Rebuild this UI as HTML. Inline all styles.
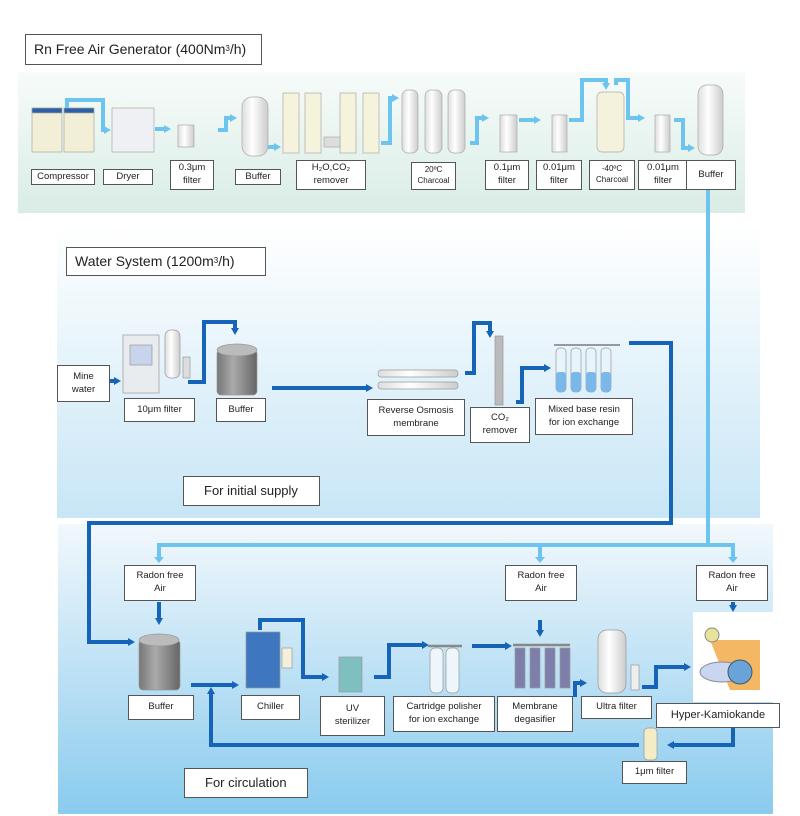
<!DOCTYPE html>
<html><head><meta charset="utf-8"><style>
*{margin:0;padding:0;box-sizing:border-box}
body{width:800px;height:816px;background:#fff;position:relative;overflow:hidden;font-family:"Liberation Sans",sans-serif;color:#222}
.b{position:absolute;background:#fff;border:1.5px solid #555;display:flex;align-items:center;justify-content:center;text-align:center;font-size:9.5px;line-height:1.35}
.s{font-size:8px}
.t{font-size:14px;justify-content:flex-start;padding-left:8px}
svg{position:absolute;left:0;top:0}
</style></head><body>
<svg width="800" height="816">
<defs>
<linearGradient id="g1" x1="0" y1="0" x2="0" y2="1"><stop offset="0" stop-color="#f7fbf9"/><stop offset="1" stop-color="#d9ede5"/></linearGradient>
<linearGradient id="g2" x1="0" y1="0" x2="0" y2="1"><stop offset="0" stop-color="#ffffff"/><stop offset="1" stop-color="#c8e6f6"/></linearGradient>
<linearGradient id="g3" x1="0" y1="0" x2="0" y2="1"><stop offset="0" stop-color="#f2f8fc"/><stop offset="1" stop-color="#8acbee"/></linearGradient>
<linearGradient id="cy" x1="0" y1="0" x2="1" y2="0"><stop offset="0" stop-color="#ddd"/><stop offset=".4" stop-color="#fff"/><stop offset="1" stop-color="#ccc"/></linearGradient>
<linearGradient id="gr" x1="0" y1="0" x2="1" y2="0"><stop offset="0" stop-color="#777"/><stop offset=".4" stop-color="#aaa"/><stop offset="1" stop-color="#666"/></linearGradient>
<marker id="al" markerUnits="userSpaceOnUse" markerWidth="8" markerHeight="8" refX="2" refY="4" orient="auto"><path d="M0,0L7,4L0,8z" fill="#6cc4ef"/></marker>
<marker id="ad" markerUnits="userSpaceOnUse" markerWidth="8" markerHeight="8" refX="2" refY="4" orient="auto"><path d="M0,0L7,4L0,8z" fill="#1664b8"/></marker>
</defs>
<rect x="18" y="72" width="727" height="141" fill="url(#g1)"/>
<rect x="57" y="225" width="703" height="293" fill="url(#g2)"/>
<rect x="58" y="524" width="715" height="290" fill="url(#g3)"/>
<g stroke="#aaa" stroke-width=".7">
<rect x="32" y="108" width="30" height="44" fill="#f3efd6"/><rect x="32" y="108" width="30" height="5" fill="#2b5fa6"/>
<rect x="64" y="108" width="30" height="44" fill="#f3efd6"/><rect x="64" y="108" width="30" height="5" fill="#2b5fa6"/>
<rect x="112" y="108" width="42" height="44" fill="#eef0f3"/>
<rect x="178" y="125" width="16" height="22" fill="url(#cy)"/>
<rect x="242" y="97" width="26" height="59" rx="10" fill="url(#cy)"/>
<rect x="283" y="93" width="16" height="60" fill="#f6f3dc"/><rect x="305" y="93" width="16" height="60" fill="#f6f3dc"/>
<rect x="340" y="93" width="16" height="60" fill="#f6f3dc"/><rect x="363" y="93" width="16" height="60" fill="#f6f3dc"/>
<rect x="324" y="137" width="16" height="10" fill="#ddd"/>
<rect x="402" y="90" width="16" height="63" rx="6" fill="url(#cy)"/><rect x="425" y="90" width="17" height="63" rx="6" fill="url(#cy)"/><rect x="448" y="90" width="17" height="63" rx="6" fill="url(#cy)"/>
<rect x="500" y="115" width="17" height="37" fill="url(#cy)"/><rect x="552" y="115" width="15" height="37" fill="url(#cy)"/>
<rect x="597" y="92" width="27" height="60" rx="5" fill="#f4f1dc"/>
<rect x="655" y="115" width="15" height="37" fill="url(#cy)"/>
<rect x="698" y="85" width="25" height="70" rx="9" fill="url(#cy)"/>
</g>
<g fill="none" stroke="#6cc4ef" stroke-width="4">
<path d="M67,108V100H103V130H106" marker-end="url(#al)"/>
<path d="M155,129H166" marker-end="url(#al)"/>
<path d="M218,130H226V118H232" marker-end="url(#al)"/>
<path d="M268,147H276" marker-end="url(#al)"/>
<path d="M381,143H390V98H394" marker-end="url(#al)"/>
<path d="M470,143H477V118H484" marker-end="url(#al)"/>
<path d="M519,120H536" marker-end="url(#al)"/>
<path d="M569,120H582V80H606V85" marker-end="url(#al)"/>
<path d="M616,85V80H628V118H640" marker-end="url(#al)"/>
<path d="M674,120H683V148H690" marker-end="url(#al)"/>
<path d="M708,190V545"/>
<path d="M159,559V545H733V559" /><path d="M540,545V559"/>
</g>
<g fill="#6cc4ef"><path d="M154,557h10l-5,6z"/><path d="M535,557h10l-5,6z"/><path d="M728,557h10l-5,6z"/></g>
<g stroke="#999" stroke-width=".7">
<rect x="123" y="335" width="36" height="58" fill="#e9ecef"/><rect x="130" y="345" width="22" height="20" fill="#c8d3ec"/>
<rect x="165" y="330" width="15" height="48" rx="6" fill="url(#cy)"/><rect x="183" y="357" width="7" height="21" fill="#ddd"/>
<rect x="217" y="350" width="40" height="45" rx="4" fill="url(#gr)"/><ellipse cx="237" cy="350" rx="20" ry="6" fill="#bbb"/>
<rect x="378" y="370" width="80" height="7" rx="3" fill="url(#cy)"/><rect x="378" y="382" width="80" height="7" rx="3" fill="url(#cy)"/>
<rect x="495" y="336" width="8" height="69" fill="#bbb"/>
<rect x="556" y="348" width="10" height="44" rx="4" fill="#e8f4fb"/><rect x="571" y="348" width="10" height="44" rx="4" fill="#e8f4fb"/><rect x="586" y="348" width="10" height="44" rx="4" fill="#e8f4fb"/><rect x="601" y="348" width="10" height="44" rx="4" fill="#e8f4fb"/>
</g>
<g fill="#7ab8ea"><rect x="556" y="372" width="10" height="20" rx="3"/><rect x="571" y="372" width="10" height="20" rx="3"/><rect x="586" y="372" width="10" height="20" rx="3"/><rect x="601" y="372" width="10" height="20" rx="3"/></g>
<path d="M554,345H620" stroke="#999" stroke-width="2"/>
<g fill="none" stroke="#1664b8" stroke-width="4">
<path d="M110,381H116" marker-end="url(#ad)"/>
<path d="M188,382H204V322H235V330" marker-end="url(#ad)"/>
<path d="M272,388H368" marker-end="url(#ad)"/>
<path d="M465,373H474V323H490V333" marker-end="url(#ad)"/>
<path d="M516,402H522V368H546" marker-end="url(#ad)"/>
<path d="M629,343H671V523H89V642H130" marker-end="url(#ad)"/>
<path d="M159,602V620" marker-end="url(#ad)"/><path d="M540,620V632" marker-end="url(#ad)"/><path d="M733,602V607" marker-end="url(#ad)"/>
<path d="M191,685H234" marker-end="url(#ad)"/>
<path d="M260,630V620H303V677H324" marker-end="url(#ad)"/>
<path d="M374,677H389V645H424" marker-end="url(#ad)"/>
<path d="M472,646H507" marker-end="url(#ad)"/>
<path d="M575,697V683H582" marker-end="url(#ad)"/>
<path d="M642,687H656V667H686" marker-end="url(#ad)"/>
<path d="M639,745H211V692" marker-end="url(#ad)"/>
<path d="M733,728V745H672" marker-end="url(#ad)"/>
</g>
<g stroke="#999" stroke-width=".7">
<rect x="139" y="640" width="41" height="50" rx="4" fill="url(#gr)"/><ellipse cx="159" cy="640" rx="20" ry="6" fill="#bbb"/>
<rect x="246" y="632" width="34" height="56" fill="#3e77c0"/><rect x="282" y="648" width="10" height="20" fill="#f3f0dc"/>
<rect x="339" y="657" width="23" height="35" fill="#7fbfc0"/>
<rect x="430" y="648" width="13" height="45" rx="5" fill="#eef6fb"/><rect x="446" y="648" width="13" height="45" rx="5" fill="#eef6fb"/>
<rect x="515" y="648" width="10" height="40" fill="#7d7faa"/><rect x="530" y="648" width="10" height="40" fill="#7d7faa"/><rect x="545" y="648" width="10" height="40" fill="#7d7faa"/><rect x="560" y="648" width="10" height="40" fill="#7d7faa"/>
<rect x="598" y="630" width="28" height="63" rx="9" fill="url(#cy)"/><rect x="631" y="665" width="8" height="25" fill="#eee"/>
<rect x="693" y="612" width="80" height="90" fill="#fff" stroke="none"/>
<rect x="644" y="728" width="13" height="32" rx="4" fill="#f3ecc4"/>
</g>
<path d="M428,646H462M513,645H570" stroke="#888" stroke-width="2.5"/>
<path d="M710,640h50v50h-30z" fill="#f1a53c" opacity=".8"/>
<ellipse cx="722" cy="672" rx="22" ry="10" fill="#c9d6ef" stroke="#889"/>
<ellipse cx="740" cy="672" rx="12" ry="12" fill="#6aa3d8" stroke="#456"/>
<circle cx="712" cy="635" r="7" fill="#e7e29c" stroke="#888"/>
</svg>
<div class="b t" style="left:25px;top:34px;width:237px;height:31px">Rn Free Air Generator (400Nm<sup style="font-size:8px">3</sup>/h)</div>
<div class="b" style="left:31px;top:169px;width:64px;height:16px">Compressor</div>
<div class="b" style="left:103px;top:169px;width:50px;height:16px">Dryer</div>
<div class="b" style="left:170px;top:160px;width:44px;height:30px">0.3μm<br>filter</div>
<div class="b" style="left:235px;top:169px;width:46px;height:16px">Buffer</div>
<div class="b" style="left:296px;top:160px;width:70px;height:30px">H₂O,CO₂<br>remover</div>
<div class="b s" style="left:411px;top:162px;width:45px;height:28px">20ºC<br>Charcoal</div>
<div class="b" style="left:485px;top:160px;width:44px;height:30px">0.1μm<br>filter</div>
<div class="b" style="left:536px;top:160px;width:46px;height:30px">0.01μm<br>filter</div>
<div class="b s" style="left:589px;top:160px;width:46px;height:30px">-40ºC<br>Charcoal</div>
<div class="b" style="left:638px;top:160px;width:50px;height:30px">0.01μm<br>filter</div>
<div class="b" style="left:686px;top:160px;width:50px;height:30px">Buffer</div>
<div class="b t" style="left:66px;top:247px;width:200px;height:29px">Water System (1200m<sup style="font-size:8px">3</sup>/h)</div>
<div class="b" style="left:57px;top:365px;width:53px;height:37px">Mine<br>water</div>
<div class="b" style="left:124px;top:398px;width:71px;height:24px">10μm filter</div>
<div class="b" style="left:216px;top:398px;width:50px;height:24px">Buffer</div>
<div class="b" style="left:367px;top:399px;width:98px;height:37px">Reverse Osmosis<br>membrane</div>
<div class="b" style="left:470px;top:407px;width:60px;height:36px">CO₂<br>remover</div>
<div class="b" style="left:535px;top:398px;width:98px;height:37px">Mixed base resin<br>for ion exchange</div>
<div class="b t" style="left:183px;top:476px;width:137px;height:30px;font-size:13px;padding-left:20px">For initial supply</div>
<div class="b" style="left:124px;top:565px;width:72px;height:36px">Radon free<br>Air</div>
<div class="b" style="left:505px;top:565px;width:72px;height:36px">Radon free<br>Air</div>
<div class="b" style="left:696px;top:565px;width:72px;height:36px">Radon free<br>Air</div>
<div class="b" style="left:128px;top:695px;width:66px;height:25px">Buffer</div>
<div class="b" style="left:241px;top:695px;width:59px;height:25px">Chiller</div>
<div class="b" style="left:320px;top:696px;width:65px;height:40px">UV<br>sterilizer</div>
<div class="b" style="left:393px;top:696px;width:102px;height:36px">Cartridge polisher<br>for ion exchange</div>
<div class="b" style="left:497px;top:696px;width:76px;height:36px">Membrane<br>degasifier</div>
<div class="b" style="left:581px;top:696px;width:71px;height:23px">Ultra filter</div>
<div class="b" style="left:656px;top:703px;width:124px;height:25px;font-size:11px">Hyper-Kamiokande</div>
<div class="b" style="left:622px;top:761px;width:65px;height:23px">1μm filter</div>
<div class="b t" style="left:184px;top:768px;width:124px;height:30px;font-size:13px;padding-left:20px">For circulation</div>
</body></html>
